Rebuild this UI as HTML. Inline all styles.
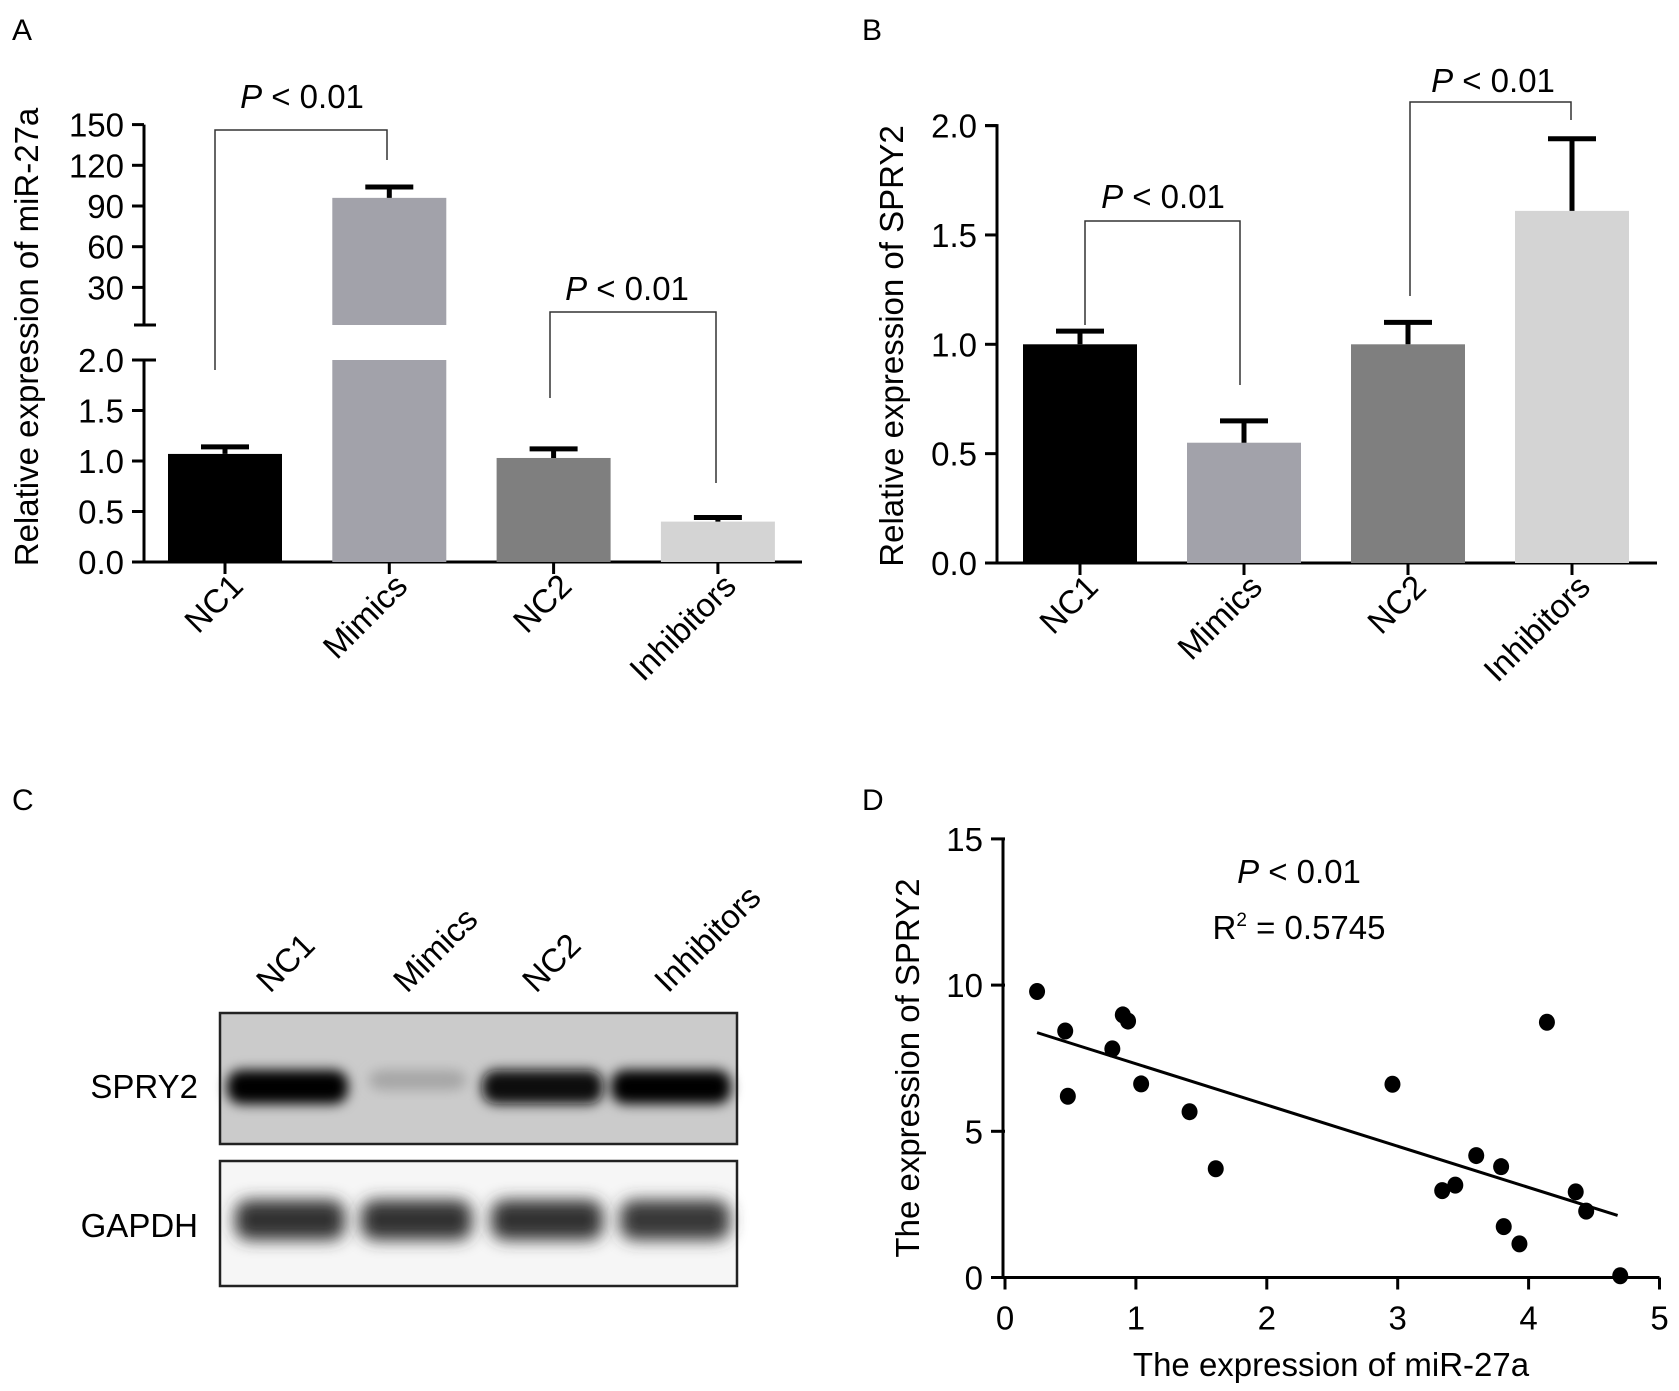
<!DOCTYPE html>
<html><head><meta charset="utf-8"><style>
html,body{margin:0;padding:0;background:#fff;}
svg{display:block;font-family:"Liberation Sans",Arial,sans-serif;}
</style></head><body>
<svg id="fig" width="1679" height="1391" viewBox="0 0 1679 1391" xmlns="http://www.w3.org/2000/svg">
<defs>
<filter id="blur" x="-20%" y="-50%" width="140%" height="200%"><feGaussianBlur stdDeviation="6"/></filter>
<filter id="blur2" x="-20%" y="-50%" width="140%" height="200%"><feGaussianBlur stdDeviation="8"/></filter>
</defs>
<g id="pa"></g>
<g id="pb"></g>
<g id="pc"></g>
<g id="pd"></g>
</svg>
<script>
// ---- data ----
const categories = ["NC1","Mimics","NC2","Inhibitors"];
const barColors = ["#000000","#a2a2aa","#7f7f7f","#d4d4d4"];
const aValues = [1.07, 96, 1.03, 0.40];
const aErrors = [1.14, 104, 1.12, 0.44];
const aLowTicks = [0.0, 0.5, 1.0, 1.5, 2.0];
const aLowTickLabels = ["0.0","0.5","1.0","1.5","2.0"];
const aHighTicks = [30, 60, 90, 120, 150];
const aHighTickLabels = ["30","60","90","120","150"];
const bValues = [1.0, 0.55, 1.0, 1.61];
const bErrors = [1.06, 0.65, 1.10, 1.94];
const bTicks = [0.0, 0.5, 1.0, 1.5, 2.0];
const bTickLabels = ["0.0","0.5","1.0","1.5","2.0"];
const dX = [0.245,0.46,0.48,0.82,0.90,0.94,1.04,1.41,1.61,2.96,3.34,3.44,3.60,3.79,3.81,3.93,4.14,4.36,4.44,4.70];
const dY = [9.78,8.43,6.2,7.82,8.98,8.77,6.62,5.67,3.72,6.61,2.97,3.16,4.17,3.79,1.74,1.15,8.73,2.93,2.27,0.06];
const fitSlope = [-1.41];
const fitIntercept = [8.72];
const fitRange = [0.245, 4.68];
const dXTicks = [0,1,2,3,4,5];
const dYTicks = [0,5,10,15];
const lanes = ["NC1","Mimics","NC2","Inhibitors"];
const spryIntensity = [1.0, 0.35, 0.95, 1.0];
const gapdhIntensity = [0.8, 0.8, 0.8, 0.78];

const NS="http://www.w3.org/2000/svg";
function mk(parent, tag, attrs, text){
  const e=document.createElementNS(NS,tag);
  for(const k in attrs) e.setAttribute(k,attrs[k]);
  if(text!==undefined) e.textContent=text;
  parent.appendChild(e); return e;
}
const FS=33;

// ---- Panel A ----
(function(){
  const g=document.getElementById('pa');
  const t=mk(g,'text',{x:12,y:40,'font-size':30},'A');
   
  const ax=144, base=562, top2=360;
  const yLow=v=>base-(v/2)*(base-top2);
  const hiBase=325, yHigh=v=>206-(v-90)*(40.7/30);
  const xC=i=>225+i*164.3, bw=114;
  const axis=mk(g,'path',{d:`M${ax},${top2}V${base+1.5}M${ax},${hiBase}V${yHigh(150)}M${ax-10},${hiBase}H${ax+12}M${ax-12},${top2}H${ax+12}`,stroke:'#000','stroke-width':3,fill:'none'});
   
  const xa=mk(g,'line',{x1:ax-12,x2:802,y1:base,y2:base,stroke:'#000','stroke-width':3});
   
  aLowTicks.forEach((v,i)=>{
    mk(g,'line',{x1:ax-12,x2:ax,y1:yLow(v),y2:yLow(v),stroke:'#000','stroke-width':3});
    const l=mk(g,'text',{x:ax-20,y:yLow(v)+12,'font-size':FS,'text-anchor':'end'},aLowTickLabels[i]);
     
  });
  aHighTicks.forEach((v,i)=>{
    mk(g,'line',{x1:ax-12,x2:ax,y1:yHigh(v),y2:yHigh(v),stroke:'#000','stroke-width':3});
    const l=mk(g,'text',{x:ax-20,y:yHigh(v)+12,'font-size':FS,'text-anchor':'end'},aHighTickLabels[i]);
     
  });
  categories.forEach((c,i)=>{
    const v=aValues[i], e=aErrors[i], x=xC(i);
    if(v>2){
      const r1=mk(g,'rect',{x:x-bw/2,y:top2,width:bw,height:base-top2,fill:barColors[i]});
       
      const r2=mk(g,'rect',{x:x-bw/2,y:yHigh(v),width:bw,height:hiBase-yHigh(v),fill:barColors[i]});
       
      const eb=mk(g,'path',{d:`M${x},${yHigh(v)}V${yHigh(e)}M${x-24},${yHigh(e)}H${x+24}`,stroke:'#000','stroke-width':5});
       
    } else {
      const r=mk(g,'rect',{x:x-bw/2,y:yLow(v),width:bw,height:base-yLow(v),fill:barColors[i]});
       
      const eb=mk(g,'path',{d:`M${x},${yLow(v)}V${yLow(e)}M${x-24},${yLow(e)}H${x+24}`,stroke:'#000','stroke-width':5});
       
    }
    mk(g,'line',{x1:x,x2:x,y1:base,y2:base+12,stroke:'#000','stroke-width':3});
    const l=mk(g,'text',{x:x+20,y:base+26,'font-size':FS,'text-anchor':'end',transform:`rotate(-45 ${x+20} ${base+26})`},c);
     
  });
  const yt=mk(g,'text',{x:38,y:337,'font-size':FS,'text-anchor':'middle',transform:'rotate(-90 38 337)'},'Relative expression of miR-27a');
   
  const br1=mk(g,'path',{d:'M215,370V130H387V160',stroke:'#333','stroke-width':1.5,fill:'none'});
   
  const p1=mk(g,'text',{x:302,y:108,'font-size':FS,'text-anchor':'middle'});
  p1.innerHTML='<tspan font-style="italic">P</tspan> &lt; 0.01';
   
  const br2=mk(g,'path',{d:'M550,398V312H716V483',stroke:'#333','stroke-width':1.5,fill:'none'});
   
  const p2=mk(g,'text',{x:627,y:300,'font-size':FS,'text-anchor':'middle'});
  p2.innerHTML='<tspan font-style="italic">P</tspan> &lt; 0.01';
   
})();

// ---- Panel B ----
(function(){
  const g=document.getElementById('pb');
  const t=mk(g,'text',{x:862,y:40,'font-size':30},'B');
   
  const ax=997, base=563, top=125.6;
  const y=v=>base-(v/2)*(base-top);
  const xC=i=>1080+i*164, bw=114;
  const axis=mk(g,'path',{d:`M${ax-12},${top}H${ax}V${base}`,stroke:'#000','stroke-width':3,fill:'none'});
   
  const xa=mk(g,'line',{x1:ax-12,x2:1657,y1:base,y2:base,stroke:'#000','stroke-width':3});
   
  bTicks.forEach((v,i)=>{
    mk(g,'line',{x1:ax-12,x2:ax,y1:y(v),y2:y(v),stroke:'#000','stroke-width':3});
    const l=mk(g,'text',{x:ax-20,y:y(v)+12,'font-size':FS,'text-anchor':'end'},bTickLabels[i]);
     
  });
  categories.forEach((c,i)=>{
    const v=bValues[i], e=bErrors[i], x=xC(i);
    const r=mk(g,'rect',{x:x-bw/2,y:y(v),width:bw,height:base-y(v),fill:barColors[i]});
     
    const eb=mk(g,'path',{d:`M${x},${y(v)}V${y(e)}M${x-24},${y(e)}H${x+24}`,stroke:'#000','stroke-width':5});
     
    mk(g,'line',{x1:x,x2:x,y1:base,y2:base+12,stroke:'#000','stroke-width':3});
    const l=mk(g,'text',{x:x+20,y:base+26,'font-size':FS,'text-anchor':'end',transform:`rotate(-45 ${x+20} ${base+26})`},c);
     
  });
  const yt=mk(g,'text',{x:903,y:346,'font-size':FS,'text-anchor':'middle',transform:'rotate(-90 903 346)'},'Relative expression of SPRY2');
   
  const br1=mk(g,'path',{d:'M1085,325V221H1240V385',stroke:'#333','stroke-width':1.5,fill:'none'});
   
  const p1=mk(g,'text',{x:1163,y:208,'font-size':FS,'text-anchor':'middle'});
  p1.innerHTML='<tspan font-style="italic">P</tspan> &lt; 0.01';
   
  const br2=mk(g,'path',{d:'M1410,296V102H1571V120',stroke:'#333','stroke-width':1.5,fill:'none'});
   
  const p2=mk(g,'text',{x:1493,y:92,'font-size':FS,'text-anchor':'middle'});
  p2.innerHTML='<tspan font-style="italic">P</tspan> &lt; 0.01';
   
})();

// ---- Panel C ----
(function(){
  const g=document.getElementById('pc');
  const t=mk(g,'text',{x:12,y:810,'font-size':30},'C');
   
  const b1=mk(g,'rect',{x:220,y:1013,width:517,height:131,fill:'#cbcbcb'});
   
  const b2=mk(g,'rect',{x:220,y:1161,width:517,height:125,fill:'#f6f6f6'});
   
  const laneX=[223,365,478,607], laneW=[129,105,129,128];
  const gX=[231,357,487,616], gW=[118,119,120,118];
  lanes.forEach((c,i)=>{
    const s=spryIntensity[i], gv=Math.round(255*(1-s));
    const band=mk(g,'rect',{x:laneX[i]+4,y:1070,width:laneW[i]-8,height:s<0.5?20:34,rx:14,fill:`rgb(${gv},${gv},${gv})`,filter:'url(#blur)'});
     
    const gg=Math.round(255*(1-gapdhIntensity[i]));
    const gb=mk(g,'rect',{x:gX[i]+4,y:1200,width:gW[i]-8,height:40,rx:14,fill:`rgb(${gg},${gg},${gg})`,filter:'url(#blur2)'});
     
    const lx=[270,407,536,668][i];
    const l=mk(g,'text',{x:lx,y:994,'font-size':FS,transform:`rotate(-45 ${lx} 994)`},c);
     
  });
  mk(g,'rect',{x:220,y:1013,width:517,height:131,fill:'none',stroke:'#222','stroke-width':2.5});
  mk(g,'rect',{x:220,y:1161,width:517,height:125,fill:'none',stroke:'#222','stroke-width':2.5});
  const s1=mk(g,'text',{x:198,y:1098,'font-size':FS,'text-anchor':'end'},'SPRY2');
   
  const s2=mk(g,'text',{x:198,y:1237,'font-size':FS,'text-anchor':'end'},'GAPDH');
   
})();

// ---- Panel D ----
(function(){
  const g=document.getElementById('pd');
  const t=mk(g,'text',{x:862,y:810,'font-size':30},'D');
   
  const x=v=>1005+v*130.9, y=v=>1277.5-v*29.24;
  const axis=mk(g,'path',{d:`M${x(0)-2},${y(15)}V${y(0)}`,stroke:'#000','stroke-width':3});
   
  const xa=mk(g,'line',{x1:x(0)-14,x2:x(5),y1:y(0),y2:y(0),stroke:'#000','stroke-width':3});
   
  dYTicks.forEach(v=>{
    mk(g,'line',{x1:x(0)-14,x2:x(0),y1:y(v),y2:y(v),stroke:'#000','stroke-width':3});
    const l=mk(g,'text',{x:x(0)-22,y:y(v)+12,'font-size':FS,'text-anchor':'end'},String(v));
     
  });
  dXTicks.forEach(v=>{
    mk(g,'line',{x1:x(v),x2:x(v),y1:y(0),y2:y(0)+12,stroke:'#000','stroke-width':3});
    const l=mk(g,'text',{x:x(v),y:y(0)+52,'font-size':FS,'text-anchor':'middle'},String(v));
     
  });
  const fl=mk(g,'line',{x1:x(fitRange[0]),y1:y(fitIntercept[0]+fitSlope[0]*fitRange[0]),x2:x(fitRange[1]),y2:y(fitIntercept[0]+fitSlope[0]*fitRange[1]),stroke:'#000','stroke-width':3});
   
  dX.forEach((v,i)=>{
    const c=mk(g,'ellipse',{cx:x(v),cy:y(dY[i]),rx:8,ry:8.5,fill:'#000'});
     
  });
  const p=mk(g,'text',{x:1299,y:883,'font-size':FS,'text-anchor':'middle'});
  p.innerHTML='<tspan font-style="italic">P</tspan> &lt; 0.01';
   
  const r=mk(g,'text',{x:1299,y:939,'font-size':FS,'text-anchor':'middle'});
  r.innerHTML='R<tspan font-size="19" dy="-13">2</tspan><tspan dy="13"> = 0.5745</tspan>';
   
  const yt=mk(g,'text',{x:919,y:1068,'font-size':FS,'text-anchor':'middle',transform:'rotate(-90 919 1068)'},'The expression of SPRY2');
   
  const xt=mk(g,'text',{x:1331,y:1376,'font-size':FS,'text-anchor':'middle'},'The expression of miR-27a');
   
})();
</script>
</body></html>
